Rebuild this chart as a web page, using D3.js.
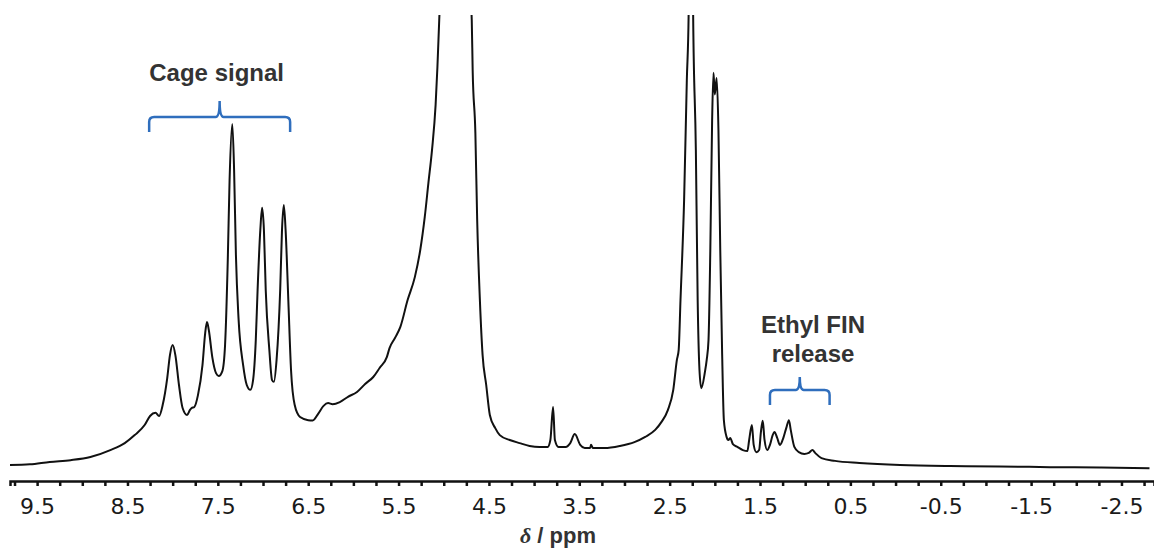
<!DOCTYPE html>
<html>
<head>
<meta charset="utf-8">
<script src="https://cdn.jsdelivr.net/npm/d3@7"></script>
<style>
  html, body { margin: 0; padding: 0; background: #fff; }
  svg { display: block; }
</style>
</head>
<body>
<svg id="chart" width="1154" height="553"></svg>
<script>
// ---- data ----
// [chemical shift (ppm), intensity (a.u., tallest cage peak = 100)], descending ppm
const baselineLeft = [
  [9.80, 2.0], [9.58, 2.2], [9.36, 2.9], [9.13, 3.4], [8.91, 4.3], [8.69, 6.3], [8.53, 8.3], [8.42, 10.6], [8.31, 13.5]
];
const cageRegion = [
  [8.25, 16.1], [8.19, 17.0], [8.15, 16.1], [8.11, 19.3], [8.06, 27.0], [8.03, 33.6], [8.00, 36.5], [7.97, 33.6],
  [7.93, 25.0], [7.89, 18.4], [7.84, 16.4], [7.81, 17.8], [7.79, 18.4], [7.76, 18.7], [7.72, 22.1], [7.67, 30.7],
  [7.64, 39.9], [7.62, 43.1], [7.60, 40.8], [7.56, 32.8], [7.52, 28.4], [7.49, 27.6], [7.45, 29.0], [7.42, 36.5],
  [7.39, 60.9], [7.37, 83.9], [7.34, 100], [7.32, 86.8], [7.30, 62.4], [7.27, 43.7], [7.22, 30.7], [7.18, 25.0],
  [7.14, 23.6], [7.11, 26.4], [7.08, 37.9], [7.06, 52.3], [7.03, 69.5], [7.01, 75.9], [6.99, 69.5], [6.97, 52.3],
  [6.93, 35.1], [6.90, 26.4], [6.88, 25.9], [6.85, 32.2], [6.81, 52.3], [6.79, 69.5], [6.77, 76.7], [6.75, 69.5],
  [6.72, 49.4], [6.69, 29.3], [6.65, 19.3], [6.59, 15.8]
];
const waterRegion = [
  [6.50, 14.9], [6.45, 14.8], [6.39, 16.7], [6.33, 19.0], [6.28, 19.8], [6.23, 19.5], [6.15, 20.1], [6.06, 21.6],
  [5.96, 23.0], [5.87, 25.3], [5.78, 27.3], [5.71, 29.9], [5.63, 33.0], [5.60, 35.6], [5.54, 38.5], [5.48, 41.7],
  [5.40, 49.4], [5.32, 56.0], [5.26, 63.8], [5.21, 73.3], [5.17, 83.0], [5.13, 92.5], [5.09, 105.5], [5.07, 116.4],
  [5.05, 129.9], [4.88, 200], [4.69, 129.9], [4.68, 115.5], [4.65, 97.4], [4.63, 72.4], [4.60, 49.4], [4.57, 33.6],
  [4.53, 25.0], [4.49, 16.4], [4.43, 12.6], [4.38, 10.6], [4.27, 9.2], [4.16, 8.3], [4.05, 7.5], [3.94, 7.2]
];
const midRegion = [
  [3.85, 7.2], [3.82, 9.2], [3.79, 18.7], [3.77, 9.2], [3.73, 7.2], [3.65, 7.2], [3.60, 8.3], [3.55, 10.9],
  [3.49, 7.8], [3.44, 6.9], [3.38, 6.9], [3.37, 7.8], [3.35, 6.9], [3.22, 6.9], [3.05, 7.5], [2.89, 8.6],
  [2.77, 10.1], [2.66, 12.1], [2.59, 14.4], [2.52, 17.8], [2.46, 23.6], [2.42, 32.2], [2.40, 35.1], [2.38, 49.4],
  [2.34, 78.2], [2.31, 112.6], [2.29, 131.5], [2.265, 300], [2.24, 131.5], [2.21, 92.5], [2.19, 49.4], [2.17, 29.3],
  [2.15, 24.1], [2.11, 28.7], [2.09, 32.2], [2.07, 37.9], [2.05, 63.8], [2.03, 101.1], [2.015, 114.7], [2.00, 108.5],
  [1.98, 113.2], [1.96, 98.3], [1.94, 63.8], [1.92, 35.1], [1.90, 14.9], [1.87, 10.1], [1.85, 9.2], [1.83, 9.8],
  [1.80, 8.0], [1.75, 7.2], [1.69, 6.3]
];
const ethylRegion = [
  [1.64, 6.0], [1.62, 9.2], [1.59, 13.5], [1.57, 7.8], [1.54, 5.7], [1.51, 6.3], [1.49, 11.5], [1.47, 14.7],
  [1.45, 9.2], [1.42, 6.3], [1.39, 7.8], [1.36, 10.6], [1.34, 11.5], [1.31, 9.8], [1.28, 7.8], [1.25, 9.2],
  [1.21, 12.6], [1.18, 14.9], [1.16, 12.1], [1.12, 7.2], [1.07, 5.7], [1.01, 5.2], [0.96, 5.5], [0.92, 6.3],
  [0.89, 5.5], [0.82, 4.0]
];
const baselineRight = [
  [0.67, 3.2], [0.40, 2.6], [-0.05, 2.0], [-0.60, 1.7], [-1.15, 1.6], [-1.71, 1.4], [-2.26, 1.3], [-2.81, 1.1]
];

const tickValuesPpm = d3.range(-11, 40).map(i => i * 0.25);   // every 0.25 ppm
const tickLabels = ["9.5", "8.5", "7.5", "6.5", "5.5", "4.5", "3.5", "2.5", "1.5", "0.5", "-0.5", "-1.5", "-2.5"];
const axisTitle = "/ ppm";

// annotations
const cageLabel = ["Cage signal"];
const cageRange = [8.26, 6.70];
const ethylLabel = ["Ethyl FIN", "release"];
const ethylRange = [1.39, 0.73];

// ---- drawing ----
const svg = d3.select("#chart");
const W = 1154, H = 553;
svg.append("rect").attr("width", W).attr("height", H).attr("fill", "#fff");

const x = d3.scaleLinear().domain([9.80, -2.86]).range([10, 1154]);
const y = d3.scaleLinear().domain([0, 100]).range([472, 124]);

svg.append("defs").append("clipPath").attr("id", "plotclip")
  .append("rect").attr("x", 0).attr("y", 15).attr("width", W).attr("height", 466);

const pts = [].concat(baselineLeft, cageRegion, waterRegion, midRegion, ethylRegion, baselineRight);
const lineGen = d3.line().x(d => x(d[0])).y(d => y(d[1])).curve(d3.curveMonotoneX);

svg.append("path")
  .attr("clip-path", "url(#plotclip)")
  .attr("d", lineGen(pts))
  .attr("fill", "none")
  .attr("stroke", "#111")
  .attr("stroke-width", 2)
  .attr("stroke-linejoin", "round");

// axis
const labelSet = new Set(tickLabels.map(Number));
const axis = d3.axisBottom(x)
  .tickValues(tickValuesPpm)
  .tickSizeOuter(0)
  .tickSize(5)
  .tickPadding(12)
  .tickFormat(d => {
    const r = Math.round(d * 100) / 100;
    return labelSet.has(r) ? tickLabels.find(t => Number(t) === r) : "";
  });

const gAxis = svg.append("g").attr("transform", "translate(0,481)").call(axis);
gAxis.select(".domain").attr("stroke", "#111").attr("stroke-width", 2.5);
gAxis.selectAll(".tick line").attr("stroke", "#111").attr("stroke-width", 2.5);
gAxis.selectAll(".tick text")
  .attr("font-family", "'DejaVu Sans', Verdana, sans-serif")
  .attr("font-size", 22)
  .attr("fill", "#1a1a1a");

// axis title
const title = svg.append("text")
  .attr("x", 558).attr("y", 543)
  .attr("text-anchor", "middle")
  .attr("font-family", "'Liberation Sans', Arial, sans-serif")
  .attr("font-weight", "bold")
  .attr("font-size", 22)
  .attr("fill", "#333");
title.append("tspan").attr("font-family", "'Liberation Serif', 'Times New Roman', serif")
  .attr("font-style", "italic").text("δ");
title.append("tspan").text(" " + axisTitle);

// curly brace helper (horizontal, opening downward)
function brace(x0, x1, yLine, yEnd, yTip) {
  const xm = (x0 + x1) / 2;
  const r = 5;
  return `M${x0},${yEnd} L${x0},${yLine + r} Q${x0},${yLine} ${x0 + r},${yLine}` +
    ` L${xm - 4},${yLine} Q${xm},${yLine} ${xm},${yTip}` +
    ` Q${xm},${yLine} ${xm + 4},${yLine} L${x1 - r},${yLine} Q${x1},${yLine} ${x1},${yLine + r} L${x1},${yEnd}`;
}
const braceColor = "#2f6ebd";

svg.append("path")
  .attr("d", brace(x(cageRange[0]), x(cageRange[1]), 117, 132, 101))
  .attr("fill", "none").attr("stroke", braceColor).attr("stroke-width", 2.5);
svg.append("path")
  .attr("d", brace(x(ethylRange[0]), x(ethylRange[1]), 390, 405, 377))
  .attr("fill", "none").attr("stroke", braceColor).attr("stroke-width", 2.5);

const labelFont = "'Liberation Sans', Arial, sans-serif";
svg.append("text")
  .attr("x", (x(cageRange[0]) + x(cageRange[1])) / 2 - 3).attr("y", 81)
  .attr("text-anchor", "middle")
  .attr("font-family", labelFont).attr("font-weight", "bold").attr("font-size", 24)
  .attr("fill", "#333")
  .text(cageLabel[0]);

ethylLabel.forEach((t, i) => {
  svg.append("text")
    .attr("x", 813).attr("y", 333 + i * 29)
    .attr("text-anchor", "middle")
    .attr("font-family", labelFont).attr("font-weight", "bold").attr("font-size", 24)
    .attr("fill", "#333")
    .text(t);
});
</script>
</body>
</html>
